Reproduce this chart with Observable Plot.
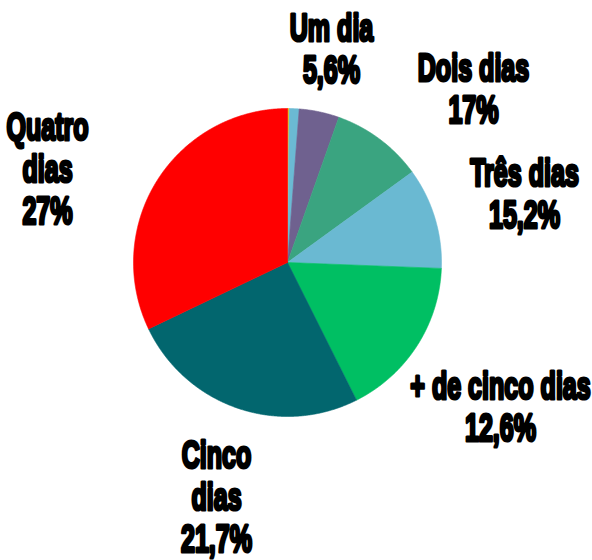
<!DOCTYPE html>
<html><head><meta charset="utf-8">
<script src="https://cdn.jsdelivr.net/npm/d3@7"></script>
<script src="https://cdn.jsdelivr.net/npm/@observablehq/plot@0.6"></script>
<style>html,body{margin:0;padding:0;background:#fff;} #chart svg{display:block;}</style>
</head><body><div id="chart"></div>
<script>
// Slices, clockwise from 12 o'clock (share of the pie)
const sliceNames = ["Sem resposta", "Nenhum dia", "Um dia", "Dois dias", "Três dias", "+ de cinco dias", "Cinco dias", "Quatro dias"];
const sliceValues = [0.17, 1.04, 4.2, 9.6, 10.6, 17.0, 25.3, 32.1];
const sliceColors = ["#f5c400", "#6bbad3", "#6f618f", "#3aa480", "#6ab9d2", "#00bf63", "#02666e", "#ff0000"];

// Printed labels
const labelTexts = ["Um dia\n5,6%", "Dois dias\n17%", "Três dias\n15,2%", "+ de cinco dias\n12,6%", "Cinco\ndias\n21,7%", "Quatro\ndias\n27%"];

// Layout (pixels)
const W = 592, H = 560, CX = 287, CY = 262, R = 154;
const labelPx = [331, 473, 524, 500, 216, 47];
const labelPy = [82, 122, 227, 440, 551, 223];

const rows = sliceNames.map((name, i) => ({name, value: sliceValues[i]}));
const arcs = d3.pie().sort(null).value(d => d.value).startAngle(0).endAngle(2 * Math.PI)(rows);
const pts = arcs.flatMap(a => {
  const n = Math.max(2, Math.ceil((a.endAngle - a.startAngle) / 0.005));
  const p = [{slice: a.data.name, x: 0, y: 0}];
  for (let i = 0; i <= n; i++) {
    const t = a.startAngle + (a.endAngle - a.startAngle) * i / n;
    p.push({slice: a.data.name, x: Math.sin(t), y: Math.cos(t)});
  }
  p.push({slice: a.data.name, x: 0, y: 0});
  return p;
});

const labels = labelTexts.map((text, i) => ({
  text,
  x: (labelPx[i] - CX) / R,
  y: (CY - labelPy[i]) / R
}));

const chart = Plot.plot({
  width: W, height: H,
  margin: 0,
  x: {axis: null, domain: [-CX / R, (W - CX) / R]},
  y: {axis: null, domain: [-(H - CY) / R, CY / R]},
  color: {type: "ordinal", domain: sliceNames, range: sliceColors},
  marks: [
    Plot.line(pts, {x: "x", y: "y", z: "slice", fill: "slice", stroke: "slice", strokeWidth: 0.6, curve: "linear"}),
    Plot.text(labels, {
      x: "x", y: "y", text: "text",
      textAnchor: "middle", lineAnchor: "bottom", lineHeight: 1.1,
      fontSize: 38, fontWeight: 700, fontFamily: "Liberation Sans, Arial, sans-serif",
      fill: "black", stroke: "black", strokeWidth: 3.2, strokeLinejoin: "round"
    })
  ]
});

chart.querySelectorAll("text").forEach(t => {
  const tr = t.getAttribute("transform");
  if (tr && tr.startsWith("translate")) t.setAttribute("transform", tr + " scale(0.66,1)");
});
document.getElementById("chart").appendChild(chart);
</script>
</body></html>
